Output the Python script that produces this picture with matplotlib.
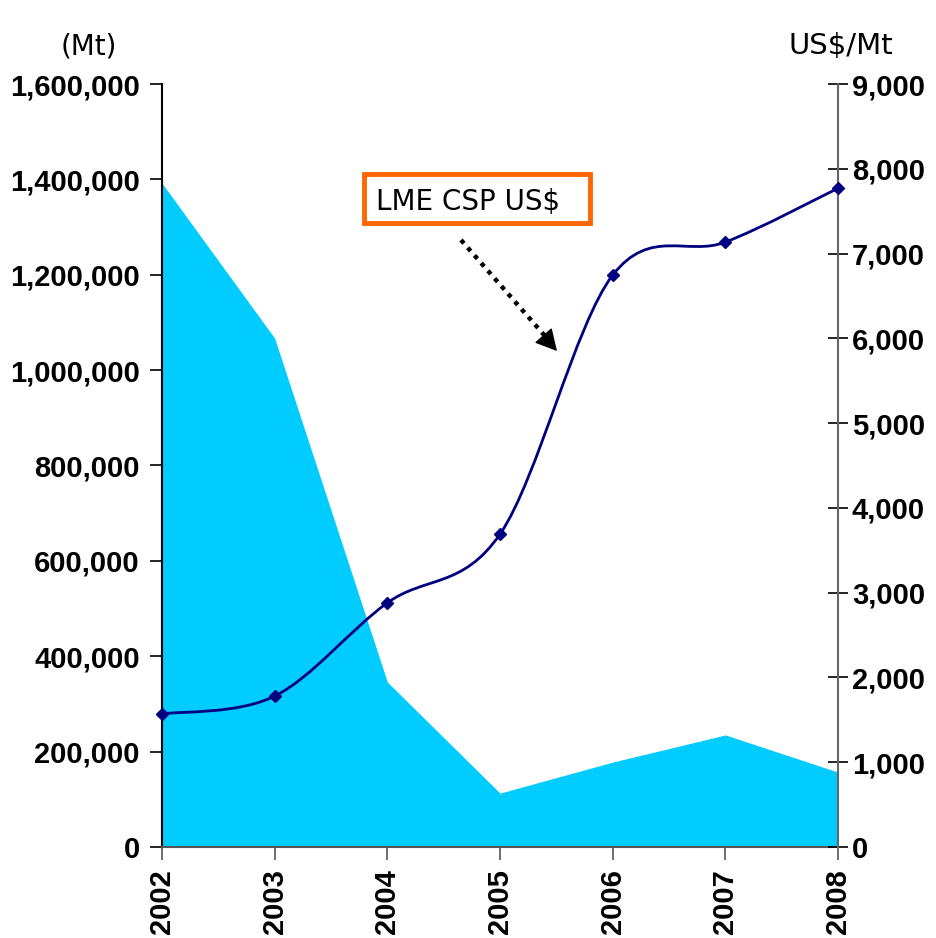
import numpy as np
import matplotlib.pyplot as plt
from matplotlib.path import Path
from matplotlib.patches import PathPatch, Rectangle
from matplotlib.lines import Line2D
from matplotlib.ticker import FuncFormatter

years = [2002, 2003, 2004, 2005, 2006, 2007, 2008]
tonnes = [1392000, 1067000, 346000, 113000, 178000, 235000, 157000]
price = [1570, 1780, 2880, 3690, 6745, 7135, 7770]

left_ticks = np.arange(0, 1600001, 200000)
right_ticks = np.arange(0, 9001, 1000)

fig = plt.figure(figsize=(9.37, 9.38), dpi=100)
ax = fig.add_axes([162 / 937, 1 - 847 / 938, 676 / 937, 763 / 938])
ax2 = ax.twinx()

# area for tonnage
ax.fill_between(years, tonnes, 0, color='#00CCFF', lw=0)
ax.set_xlim(2002, 2008)
ax.set_ylim(0, 1600000)
ax.set_yticks(left_ticks)
ax.set_xticks(years)
fmt = FuncFormatter(lambda v, p: f'{int(v):,}')
ax.yaxis.set_major_formatter(fmt)

# smoothed price line (catmull-rom -> bezier, like excel smoothing)
x = np.array(years, dtype=float)
y = np.array(price, dtype=float)
verts = [(x[0], y[0])]
codes = [Path.MOVETO]
n = len(x)
for i in range(n - 1):
    x0, y0 = (x[i - 1], y[i - 1]) if i > 0 else (x[i], y[i])
    x3, y3 = (x[i + 2], y[i + 2]) if i + 2 < n else (x[i + 1], y[i + 1])
    c1 = (x[i] + (x[i + 1] - x0) / 6, y[i] + (y[i + 1] - y0) / 6)
    c2 = (x[i + 1] - (x3 - x[i]) / 6, y[i + 1] - (y3 - y[i]) / 6)
    verts += [c1, c2, (x[i + 1], y[i + 1])]
    codes += [Path.CURVE4] * 3
ax2.add_patch(PathPatch(Path(verts, codes), fill=False, edgecolor='#000080', lw=2, zorder=3))
ax2.plot(years, price, ls='none', marker='D', ms=6, color='#000080', zorder=4, clip_on=False)
ax2.set_ylim(0, 9000)
ax2.set_yticks(right_ticks)
ax2.yaxis.set_major_formatter(fmt)

tick_font = dict(family='Liberation Sans', weight='bold', size=21)
for lab in ax.get_yticklabels() + ax2.get_yticklabels():
    lab.set_fontproperties(tick_font)
for lab in ax.get_xticklabels():
    lab.set_fontproperties(tick_font)
    lab.set_rotation(90)

ax.tick_params(axis='y', direction='out', length=9, width=1.2, pad=7, colors='black')
ax.tick_params(axis='x', direction='out', length=9, width=1.2, pad=7, color='#555555')
ax2.tick_params(axis='y', direction='inout', length=14, width=1.2, pad=3, color='black')
ax.spines['top'].set_visible(False)
ax2.spines['top'].set_visible(False)
ax.spines['right'].set_visible(False)
ax2.spines['left'].set_visible(False)
ax2.spines['bottom'].set_visible(False)
ax.spines['left'].set_linewidth(1.5)
ax.spines['bottom'].set_color('#555555')
ax.spines['bottom'].set_linewidth(1.5)
ax2.spines['right'].set_color('#666666')
ax2.spines['right'].set_linewidth(1.5)

fig.text(89 / 937, 1 - 46 / 938, '(Mt)', ha='center', va='center', fontsize=20, family='DejaVu Sans')
fig.text(841 / 937, 1 - 46 / 938, 'US$/Mt', ha='center', va='center', fontsize=21, family='DejaVu Sans')

# label box
fig.patches.append(Rectangle((364 / 937, 1 - 223 / 938), 226 / 937, 49 / 938,
                             transform=fig.transFigure, fc='white', ec='#FF6600', lw=3.5))
fig.text(376 / 937, 1 - 202 / 938, 'LME CSP US$', ha='left', va='center', fontsize=20,
         family='DejaVu Sans')

# dotted arrow
fig.add_artist(Line2D([461 / 937, 545 / 937], [1 - 240 / 938, 1 - 336 / 938],
                      transform=fig.transFigure, color='black', lw=3.2,
                      ls=(0, (1, 1.3)), dash_capstyle='butt'))
ax.annotate('', xy=(557 / 937, 1 - 351 / 938), xytext=(543 / 937, 1 - 335 / 938),
            xycoords='figure fraction', textcoords='figure fraction',
            arrowprops=dict(arrowstyle='-|>,head_length=0.75,head_width=0.4', lw=1,
                            color='black', mutation_scale=18, shrinkA=0, shrinkB=0))

fig.savefig('out.png', dpi=100)
